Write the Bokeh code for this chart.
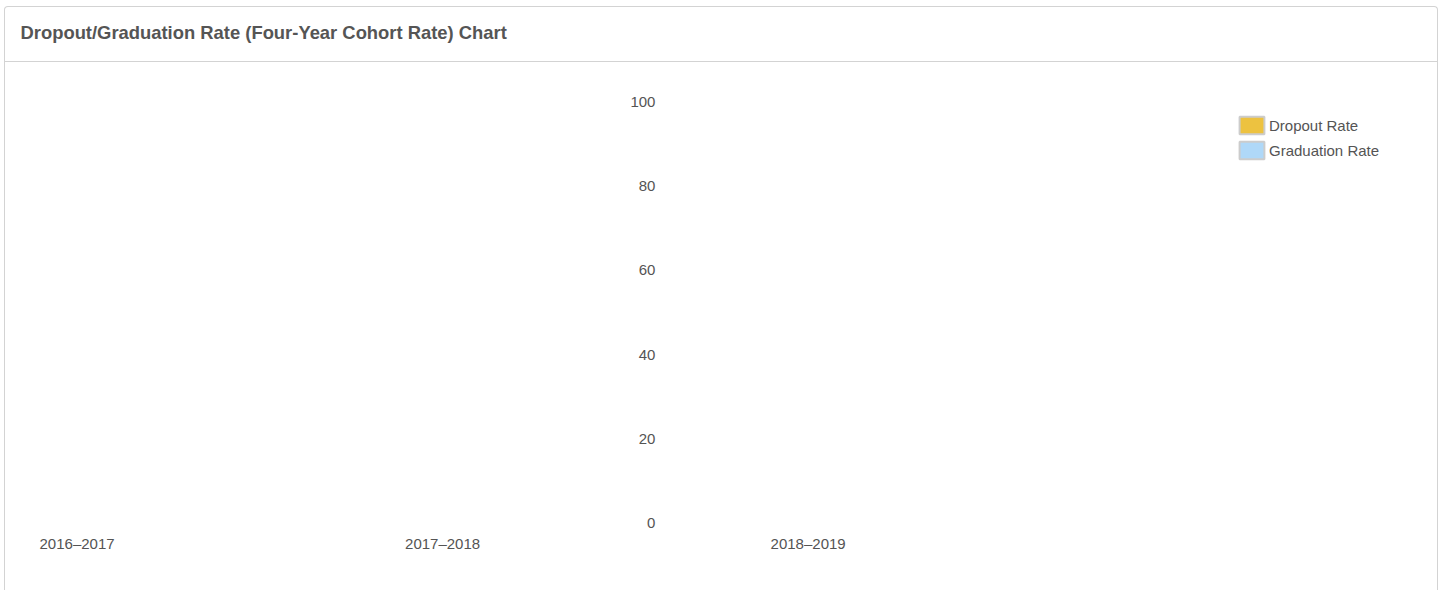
import numpy as np
from bokeh.plotting import figure
from bokeh.models import FixedTicker, Legend, LegendItem, Range1d, ColumnDataSource, Title
from bokeh.transform import dodge
from bokeh.embed import file_html
from bokeh.resources import INLINE

# ---- data ----
title_text = "Dropout/Graduation Rate (Four-Year Cohort Rate) Chart"
school_years = ["2016–2017", "2017–2018", "2018–2019"]
dropout_rate = [None, None, None]       # no values shown in the chart
graduation_rate = [None, None, None]    # no values shown in the chart
y_ticks = [0, 20, 40, 60, 80, 100]
series_names = ["Dropout Rate", "Graduation Rate"]
series_colors = ["#edc240", "#afd8f8"]

FONT = "Liberation Sans"
TEXT = "#545454"
BORDER = "#d3d3d3"

x_pos = list(range(len(school_years)))
src = ColumnDataSource(dict(
    x=x_pos,
    dropout=np.array(dropout_rate, dtype=float),
    graduation=np.array(graduation_rate, dtype=float),
))

p = figure(width=1434, height=584,
           x_range=Range1d(-0.1548, 3.6808), y_range=Range1d(-3, 103),
           output_backend="svg", toolbar_location=None,
           min_border_left=15, min_border_right=17,
           min_border_top=82, min_border_bottom=56)

p.background_fill_color = None
p.border_fill_color = None
p.outline_line_color = None
p.xgrid.visible = False
p.ygrid.visible = False

p.styles = {
    "margin-left": "4px",
    "margin-top": "6px",
    "border": "1px solid " + BORDER,
    "border-bottom": "none",
    "border-radius": "4px 4px 0 0",
    "background": "linear-gradient(to bottom, #ffffff 0px, #ffffff 54px, "
                  + BORDER + " 54px, " + BORDER + " 55px, #ffffff 55px)",
}

# panel heading (title, outermost)
p.title.text = title_text
p.title.text_font = FONT
p.title.text_font_size = "18.4px"
p.title.text_font_style = "bold"
p.title.text_color = "#555555"
p.title.align = "left"
p.title.offset = 0
p.title.standoff = 0

# blank spacer between heading and plot area
spacer = Title(text=" ", text_font=FONT, text_font_size="18.4px", standoff=24)
p.add_layout(spacer, "above")

r1 = p.vbar(x=dodge("x", -0.15), top="dropout", width=0.3, source=src,
            fill_color=series_colors[0], line_color="#cccccc", line_width=2)
r2 = p.vbar(x=dodge("x", 0.15), top="graduation", width=0.3, source=src,
            fill_color=series_colors[1], line_color="#cccccc", line_width=2)

# x axis
xa = p.xaxis[0]
xa.ticker = FixedTicker(ticks=x_pos)
xa.major_label_overrides = {i: s for i, s in zip(x_pos, school_years)}
xa.axis_line_color = None
xa.major_tick_line_color = None
xa.minor_tick_line_color = None
xa.major_tick_out = 0
xa.major_tick_in = 0
xa.major_label_standoff = -1
xa.major_label_text_font = FONT
xa.major_label_text_font_size = "15px"
xa.major_label_text_color = TEXT

# y axis (drawn inside the plot)
ya = p.yaxis[0]
ya.fixed_location = 1.5986
ya.ticker = FixedTicker(ticks=y_ticks)
ya.axis_line_color = None
ya.major_tick_line_color = None
ya.minor_tick_line_color = None
ya.major_tick_out = 0
ya.major_tick_in = 0
ya.major_label_standoff = 6
ya.major_label_text_font = FONT
ya.major_label_text_font_size = "15px"
ya.major_label_text_color = TEXT

legend = Legend(
    items=[LegendItem(label=series_names[0], renderers=[r1]),
           LegendItem(label=series_names[1], renderers=[r2])],
    location=(1216, 374), margin=0, padding=0, spacing=3,
    glyph_width=31, glyph_height=22, label_height=22, label_standoff=2,
    border_line_color=None, background_fill_alpha=0,
    label_text_font=FONT, label_text_font_size="15px", label_text_color=TEXT,
)
p.add_layout(legend, "center")

open("out.html", "w").write(file_html(p, INLINE))
